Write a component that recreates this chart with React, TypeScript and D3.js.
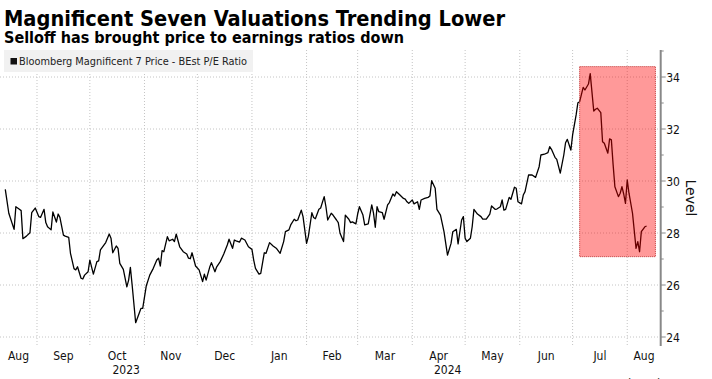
import React from "react";
import * as d3 from "d3";

const title = "Magnificent Seven Valuations Trending Lower";
const subtitle = "Selloff has brought price to earnings ratios down";
const seriesName = "Bloomberg Magnificent 7 Price - BEst P/E Ratio";
const axisTitle = "Level";
const sourceText = "Bloomberg";

const dates: string[] = [
  "2023-08-14","2023-08-16","2023-08-19","2023-08-20","2023-08-22","2023-08-23","2023-08-24","2023-08-26","2023-08-28","2023-08-29","2023-08-31",
  "2023-09-02","2023-09-03","2023-09-05","2023-09-06","2023-09-07","2023-09-09","2023-09-10","2023-09-12","2023-09-13","2023-09-14","2023-09-16","2023-09-17","2023-09-19","2023-09-20","2023-09-22","2023-09-23","2023-09-24","2023-09-26","2023-09-27","2023-09-28","2023-09-30",
  "2023-10-01","2023-10-03","2023-10-05","2023-10-06","2023-10-07","2023-10-10","2023-10-12","2023-10-13","2023-10-14","2023-10-16","2023-10-17","2023-10-18","2023-10-20","2023-10-22","2023-10-23","2023-10-24","2023-10-25","2023-10-27","2023-10-29","2023-10-30","2023-10-31",
  "2023-11-02","2023-11-04","2023-11-06","2023-11-08","2023-11-09","2023-11-10","2023-11-11","2023-11-12","2023-11-14","2023-11-15","2023-11-17","2023-11-18","2023-11-19","2023-11-21","2023-11-23","2023-11-25","2023-11-26","2023-11-27","2023-11-28","2023-11-30",
  "2023-12-02","2023-12-04","2023-12-05","2023-12-06","2023-12-08","2023-12-09","2023-12-11","2023-12-12","2023-12-14","2023-12-16","2023-12-18","2023-12-19","2023-12-21","2023-12-22","2023-12-23","2023-12-25","2023-12-26","2023-12-28","2023-12-30",
  "2024-01-01","2024-01-02","2024-01-03","2024-01-05","2024-01-06","2024-01-08","2024-01-09","2024-01-11","2024-01-13","2024-01-15","2024-01-17","2024-01-19","2024-01-20","2024-01-22","2024-01-23","2024-01-25","2024-01-26","2024-01-27","2024-01-29","2024-01-30",
  "2024-02-01","2024-02-02","2024-02-04","2024-02-05","2024-02-06","2024-02-08","2024-02-09","2024-02-11","2024-02-12","2024-02-13","2024-02-15","2024-02-16","2024-02-18","2024-02-19","2024-02-20","2024-02-22","2024-02-23","2024-02-25","2024-02-26","2024-02-27","2024-02-29",
  "2024-03-01","2024-03-02","2024-03-04","2024-03-05","2024-03-07","2024-03-09","2024-03-10","2024-03-11","2024-03-12","2024-03-13","2024-03-15","2024-03-16","2024-03-18","2024-03-19","2024-03-21","2024-03-22","2024-03-23","2024-03-25","2024-03-27","2024-03-28","2024-03-29","2024-03-30",
  "2024-04-01","2024-04-02","2024-04-04","2024-04-05","2024-04-06","2024-04-08","2024-04-10","2024-04-11","2024-04-12","2024-04-14","2024-04-15","2024-04-17","2024-04-18","2024-04-19","2024-04-21","2024-04-23","2024-04-24","2024-04-26","2024-04-27","2024-04-29","2024-04-30",
  "2024-05-01","2024-05-02","2024-05-04","2024-05-05","2024-05-06","2024-05-08","2024-05-10","2024-05-11","2024-05-13","2024-05-15","2024-05-16","2024-05-18","2024-05-19","2024-05-21","2024-05-22","2024-05-23","2024-05-24","2024-05-26","2024-05-27","2024-05-29","2024-05-30","2024-05-31",
  "2024-06-02","2024-06-03","2024-06-04","2024-06-06","2024-06-08","2024-06-10","2024-06-12","2024-06-13","2024-06-15","2024-06-17","2024-06-18","2024-06-19","2024-06-21","2024-06-22","2024-06-24","2024-06-26","2024-06-27","2024-06-28","2024-06-30",
  "2024-07-01","2024-07-03","2024-07-04","2024-07-05","2024-07-07","2024-07-08","2024-07-10","2024-07-11","2024-07-13","2024-07-14","2024-07-15","2024-07-17","2024-07-18","2024-07-19","2024-07-21","2024-07-22","2024-07-23","2024-07-24","2024-07-25","2024-07-27","2024-07-28","2024-07-29","2024-07-30","2024-07-31",
  "2024-08-01","2024-08-02","2024-08-04","2024-08-06","2024-08-07","2024-08-08","2024-08-09","2024-08-11","2024-08-12",
];

const values: number[] = [
  29.68,28.76,28.14,29.01,28.91,28.86,27.78,27.88,28.01,28.78,28.96,
  28.63,28.60,28.91,28.40,28.24,28.12,28.81,28.42,28.73,28.60,27.92,27.88,27.83,27.22,26.63,26.58,26.70,26.26,26.23,26.38,26.51,
  26.96,26.42,26.90,26.93,27.35,27.63,27.96,27.80,27.24,27.50,27.41,26.83,26.60,25.93,26.19,26.68,26.00,24.55,24.91,25.10,25.10,
  25.96,26.38,26.64,26.96,27.03,26.73,27.32,27.28,27.86,27.70,27.76,27.67,27.96,27.47,27.28,27.19,27.03,27.01,27.24,26.73,
  26.58,26.13,26.42,26.19,26.68,26.86,26.51,26.70,26.90,27.19,27.54,27.76,27.41,27.73,27.70,27.65,27.80,27.73,27.47,
  27.37,26.96,26.64,26.42,26.45,27.24,27.22,27.63,27.50,27.40,27.22,27.67,28.05,28.12,28.31,28.53,28.47,28.50,28.88,28.63,
  27.60,27.86,28.78,28.60,28.55,28.91,28.96,29.40,29.01,28.50,28.76,28.69,28.50,28.40,27.99,27.67,28.69,28.53,28.40,28.43,28.35,
  28.73,29.01,28.69,28.31,28.35,29.08,28.76,28.22,29.01,28.82,28.78,28.53,29.08,29.17,29.50,29.42,29.59,29.46,29.33,29.30,29.20,29.14,
  29.27,29.12,29.20,28.91,29.27,29.33,29.37,29.42,30.01,29.72,28.91,28.69,28.37,28.05,27.15,27.60,28.05,28.14,27.58,28.50,28.63,
  27.80,27.67,27.80,28.24,28.91,28.73,28.63,28.53,28.53,28.73,29.04,28.91,28.92,29.01,29.27,28.88,28.91,29.37,29.30,29.76,29.72,29.20,
  29.12,29.46,29.59,30.23,30.23,30.14,30.55,31.00,31.03,31.09,31.32,31.22,30.91,30.83,30.30,31.00,31.47,31.60,31.19,
  31.77,32.54,33.01,33.05,33.60,33.50,33.73,34.13,32.69,32.76,32.80,32.63,31.51,31.45,31.07,31.62,31.58,30.62,29.78,29.40,29.53,29.78,29.50,29.14,
  30.04,29.53,28.76,27.41,27.67,27.28,28.05,28.24,28.27,
];

const yTicks = [24, 26, 28, 30, 32, 34];
const yMinorTicks = [25, 27, 29, 31, 33, 35];
const monthStarts = [
  "2023-08-01","2023-09-01","2023-10-01","2023-11-01","2023-12-01","2024-01-01","2024-02-01",
  "2024-03-01","2024-04-01","2024-05-01","2024-06-01","2024-07-01","2024-08-01","2024-09-01",
];
const monthLabels = ["Aug","Sep","Oct","Nov","Dec","Jan","Feb","Mar","Apr","May","Jun","Jul","Aug"];
const yearLabels = [
  { label: "2023", month: "2023-10-01" },
  { label: "2024", month: "2024-04-01" },
];
const highlightStart = "2024-07-05";
const highlightEnd = "2024-08-17";
const highlightTop = 34.4;
const highlightBottom = 27.09;

const FONT = "'DejaVu Sans Condensed', 'DejaVu Sans', sans-serif";

export default function App() {
  const W = 712, H = 379;
  const plotLeft = 0, plotRight = 660.7, plotTop = 50, plotBottom = 346;
  const parse = (s: string) => new Date(s + "T00:00:00Z");

  const x = d3.scaleUtc()
    .domain([parse("2023-08-11"), parse("2024-08-20")])
    .range([plotLeft, plotRight]);
  const y = d3.scaleLinear().domain([24, 34]).range([337, 77]);

  const data = dates.map((d, i) => ({ date: parse(d), value: values[i] }));
  const line = d3.line<{ date: Date; value: number }>()
    .x((d) => x(d.date))
    .y((d) => y(d.value));

  const months = monthStarts.map(parse);
  const labelPos = monthLabels.map((m, i) => {
    const a = Math.max(x(months[i]), plotLeft);
    const b = Math.min(x(months[i + 1]), plotRight);
    return { label: m, x: (a + b) / 2 };
  });
  const monthMid = (s: string) => {
    const i = monthStarts.indexOf(s);
    return (x(months[i]) + x(months[i + 1])) / 2;
  };

  const hx0 = x(parse(highlightStart));
  const hx1 = x(parse(highlightEnd));
  const hy0 = y(highlightTop);
  const hy1 = y(highlightBottom);

  return (
    <svg width={W} height={H} style={{ position: "absolute", left: 0, top: 0, background: "#fff" }}
      fontFamily={FONT}>
      <rect x={0} y={0} width={W} height={H} fill="#fff" />
      <text x={4} y={26} fontSize={21} fontWeight="bold" fontStretch="condensed" fill="#000"
        textLength={501} lengthAdjust="spacingAndGlyphs">{title}</text>
      <text x={4} y={43} fontSize={15} fontWeight="bold" fontStretch="condensed" fill="#000"
        textLength={400} lengthAdjust="spacingAndGlyphs">{subtitle}</text>

      {/* grid */}
      {months.slice(1, 13).map((m, i) => (
        <line key={"vg" + i} x1={x(m)} x2={x(m)} y1={plotTop} y2={plotBottom}
          stroke="#c4c4c4" strokeWidth={1} strokeDasharray="1,2" />
      ))}
      {yTicks.map((t) => (
        <line key={"hg" + t} x1={plotLeft} x2={plotRight} y1={y(t)} y2={y(t)}
          stroke="#c4c4c4" strokeWidth={1} strokeDasharray="1,2" />
      ))}

      {/* legend */}
      <rect x={4} y={50} width={249} height={22} fill="#f1f1f1" />
      <rect x={10.5} y={58} width={6.5} height={6.5} fill="#111" />
      <text x={19} y={65} fontSize={11} fill="#222" textLength={228} lengthAdjust="spacingAndGlyphs">{seriesName}</text>

      {/* series */}
      <path d={line(data) || ""} fill="none" stroke="#000" strokeWidth={1.3} strokeLinejoin="round" />

      {/* highlight */}
      <rect x={hx0} y={hy0} width={hx1 - hx0} height={hy1 - hy0}
        fill="#ff0000" fillOpacity={0.4} stroke="#c03030" strokeWidth={1} strokeDasharray="1,1" />

      {/* y axis */}
      <line x1={plotRight} x2={plotRight} y1={plotTop} y2={plotBottom} stroke="#888" strokeWidth={2} />
      {yTicks.map((t) => (
        <g key={"yt" + t}>
          <line x1={plotRight} x2={plotRight + 5} y1={y(t)} y2={y(t)} stroke="#888" strokeWidth={1} />
          <text x={plotRight + 5.5} y={y(t) + 4.5} fontSize={12} fill="#111">{t}</text>
        </g>
      ))}
      {yMinorTicks.map((t) => (
        <line key={"ym" + t} x1={plotRight} x2={plotRight + 3} y1={y(t)} y2={y(t)} stroke="#888" strokeWidth={1} />
      ))}
      <text transform={`translate(686,198) rotate(90)`} textAnchor="middle" fontSize={14} fill="#111"
        fontFamily="'DejaVu Sans', sans-serif">{axisTitle}</text>

      {/* x axis labels */}
      {labelPos.map((p, i) => (
        <text key={"ml" + i} x={p.x} y={360} fontSize={12} textAnchor="middle" fill="#111">{p.label}</text>
      ))}
      {yearLabels.map((yl) => (
        <text key={yl.label} x={monthMid(yl.month) + 9} y={374} fontSize={12} textAnchor="middle" fill="#111">{yl.label}</text>
      ))}

      <text x={620} y={388} fontSize={13} fill="#333">{sourceText}</text>
    </svg>
  );
}
